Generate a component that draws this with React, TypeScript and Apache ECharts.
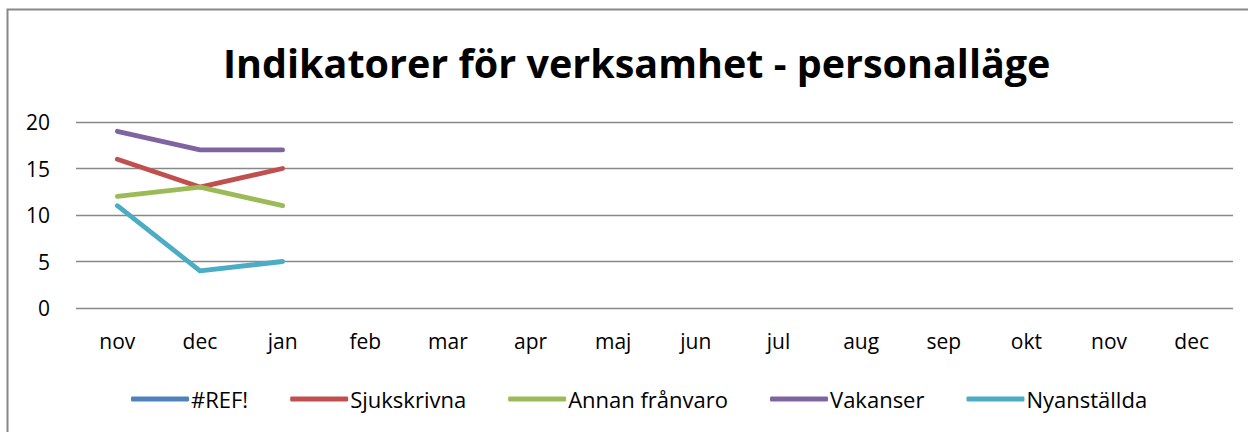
import React, { useEffect, useRef } from "react";
import * as echarts from "echarts";

const categories = ["nov", "dec", "jan", "feb", "mar", "apr", "maj", "jun", "jul", "aug", "sep", "okt", "nov", "dec"];
const seriesNames = ["#REF!", "Sjukskrivna", "Annan frånvaro", "Vakanser", "Nyanställda"];
const refValues: (number | null)[] = [null, null, null, null, null, null, null, null, null, null, null, null, null, null];
const sjukskrivna: (number | null)[] = [16, 13, 15, null, null, null, null, null, null, null, null, null, null, null];
const annanFranvaro: (number | null)[] = [12, 13, 11, null, null, null, null, null, null, null, null, null, null, null];
const vakanser: (number | null)[] = [19, 17, 17, null, null, null, null, null, null, null, null, null, null, null];
const nyanstallda: (number | null)[] = [11, 4, 5, null, null, null, null, null, null, null, null, null, null, null];
const colors = ["#4F81BD", "#C0504D", "#9BBB59", "#8064A2", "#4BACC6"];
const titleText = "Indikatorer för verksamhet - personalläge";

const FONT = "'Open Sans', 'Noto Sans', sans-serif";

export default function App() {
  const ref = useRef<HTMLDivElement>(null);
  useEffect(() => {
    document.body.style.margin = "0";
    const chart = echarts.init(ref.current!, null, { renderer: "svg" });
    const allData = [refValues, sjukskrivna, annanFranvaro, vakanser, nyanstallda];
    chart.setOption({
      animation: false,
      color: colors,
      title: {
        text: titleText,
        left: 218,
        top: 38,
        textStyle: { fontFamily: FONT, fontWeight: "bold", fontSize: 39.5, color: "#000" },
      },
      graphic: [
        {
          type: "rect",
          shape: { x: 7.5, y: 9.5, width: 1270, height: 450 },
          style: { fill: "none", stroke: "#888", lineWidth: 2 },
          silent: true,
        },
      ],
      grid: { left: 76, right: 15, top: 122, height: 186 },
      xAxis: {
        type: "category",
        data: categories,
        boundaryGap: true,
        axisLine: { show: false },
        axisTick: { show: false },
        axisLabel: { fontFamily: FONT, fontSize: 21, color: "#000", margin: 22 },
      },
      yAxis: {
        type: "value",
        min: 0,
        max: 20,
        interval: 5,
        axisLine: { show: false },
        axisTick: { show: false },
        axisLabel: { fontFamily: FONT, fontSize: 21, color: "#000", margin: 26 },
        splitLine: { lineStyle: { color: "#888", width: 1.3 } },
      },
      legend: {
        bottom: 17,
        left: 126,
        itemWidth: 58,
        itemHeight: 5,
        itemGap: 42,
        textStyle: { fontFamily: FONT, fontSize: 22, color: "#000", padding: [0, 0, 0, -3] },
        data: seriesNames.map((n) => ({ name: n, icon: "roundRect" })),
      },
      series: seriesNames.map((name, i) => ({
        name,
        type: "line",
        data: allData[i],
        symbol: "none",
        lineStyle: { width: 4.8, cap: "round", join: "round" },
        connectNulls: false,
      })),
    });
    return () => chart.dispose();
  }, []);
  return <div ref={ref} style={{ width: 1248, height: 432 }} />;
}
